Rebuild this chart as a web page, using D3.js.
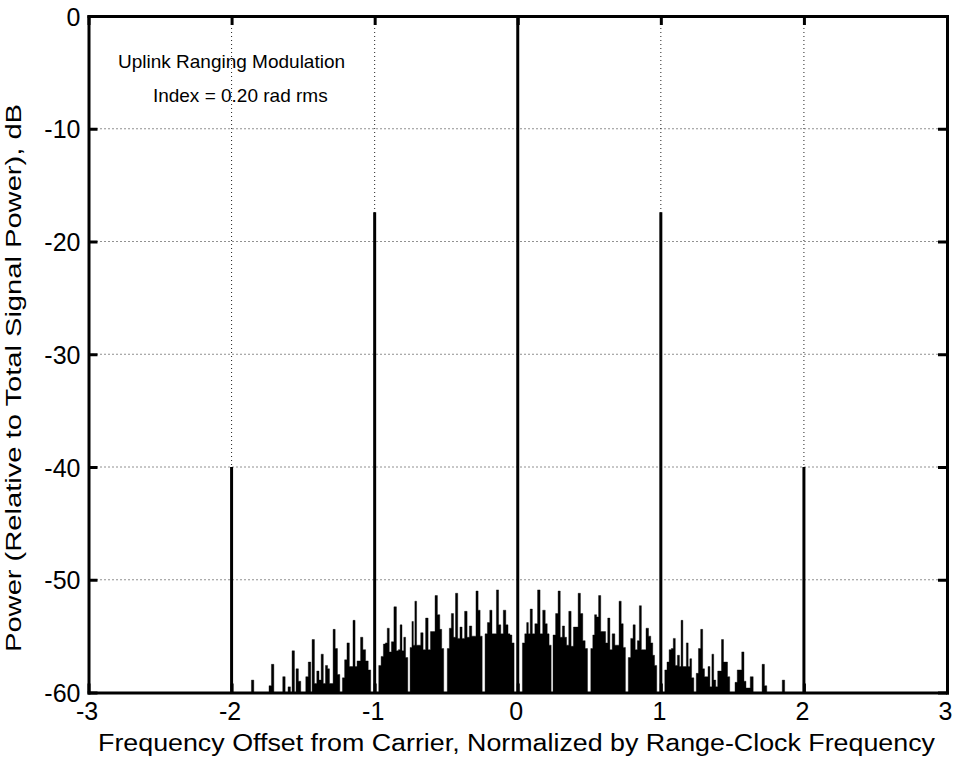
<!DOCTYPE html>
<html>
<head>
<meta charset="UTF-8">
<title>Uplink ranging spectrum</title>
<script src="https://d3js.org/d3.v7.min.js"></script>
<style>
body { margin: 0; background: white; }
text { font-family: "Liberation Sans", Arial, sans-serif; fill: black; }
</style>
</head>

<body>
<svg id="chart"></svg>

<script type="text/javascript">

/* Discrete lines: carrier and range-clock sidebands (freq, dB) */
var line_freq = [-2, -1, 0, 1, 2]
var line_db = [-40, -17.4, -0.1, -17.4, -40]

/* Low level ranging spectrum */
var noise_freq = [
	-1.853, -1.730, -1.713, -1.634, -1.597, -1.569, -1.541, -1.525,
	-1.473, -1.455, -1.429, -1.413, -1.396, -1.382, -1.366, -1.352, -1.336, -1.322, -1.310, -1.297, -1.284, -1.268, -1.252,
	-1.217, -1.203, -1.184, -1.170, -1.158, -1.145, -1.129, -1.117, -1.105, -1.092, -1.073, -1.054, -1.036,
	-0.963, -0.947, -0.931, -0.919, -0.905, -0.891, -0.875, -0.856, -0.840, -0.828, -0.816, -0.802, -0.791, -0.777,
	-0.744, -0.735, -0.724, -0.714, -0.700, -0.686, -0.670, -0.653, -0.635, -0.618, -0.602, -0.586, -0.570, -0.553, -0.537, -0.526,
	-0.484, -0.472, -0.456, -0.442, -0.428, -0.411, -0.397, -0.381, -0.362, -0.346, -0.330, -0.313, -0.299, -0.285, -0.269, -0.257,
	-0.220, -0.204, -0.187, -0.173, -0.157, -0.141, -0.127, -0.110, -0.092, -0.075, -0.061, -0.048, -0.034,
	0.041, 0.057, 0.068, 0.080, 0.094, 0.110, 0.129, 0.148, 0.164, 0.185, 0.199, 0.213, 0.225,
	0.255, 0.274, 0.290, 0.304, 0.320, 0.334, 0.348, 0.365, 0.381, 0.397, 0.414, 0.430, 0.446, 0.463, 0.479,
	0.519, 0.530, 0.544, 0.558, 0.572, 0.588, 0.607, 0.621, 0.637, 0.651, 0.669, 0.688, 0.700, 0.716, 0.730, 0.744,
	0.781, 0.798, 0.814, 0.828, 0.844, 0.856, 0.872, 0.886, 0.907, 0.921, 0.938, 0.949, 0.963,
	1.036, 1.050, 1.066, 1.080, 1.094, 1.108, 1.124, 1.136, 1.147, 1.161, 1.173, 1.184, 1.198, 1.208, 1.222,
	1.256, 1.270, 1.287, 1.298, 1.312, 1.324, 1.336, 1.350, 1.364, 1.375, 1.392, 1.403, 1.417, 1.431, 1.445, 1.459, 1.473,
	1.527, 1.541, 1.557, 1.574, 1.588, 1.602, 1.613, 1.637, 1.716, 1.732, 1.857
]
var noise_db = [
	-58.9, -59.4, -57.5, -58.6, -59.5, -56.3, -57.9, -59.0,
	-58.6, -57.3, -55.3, -59.2, -58.1, -58.9, -56.6, -59.2, -57.6, -57.9, -59.2, -59.2, -54.4, -56.1, -58.4,
	-58.7, -57.1, -55.6, -57.7, -57.7, -53.6, -57.7, -57.2, -57.2, -55.1, -56.2, -57.2, -58.0,
	-57.6, -56.8, -55.7, -55.6, -54.3, -56.4, -55.5, -52.4, -56.3, -56.2, -54.0, -56.3, -55.1, -56.9,
	-56.0, -53.7, -55.8, -51.9, -55.8, -55.8, -54.7, -56.2, -53.4, -56.2, -54.6, -54.6, -51.4, -53.1, -54.4, -56.1,
	-56.1, -54.3, -53.0, -55.1, -51.2, -55.2, -54.2, -55.2, -52.8, -55.1, -54.1, -55.0, -55.0, -51.0, -52.7, -55.0,
	-54.8, -53.8, -52.7, -54.8, -54.8, -50.9, -54.0, -54.8, -52.7, -54.0, -54.8, -54.9, -55.6,
	-55.6, -54.8, -53.8, -54.8, -52.6, -54.8, -53.9, -50.9, -54.8, -52.7, -53.9, -54.8, -55.8,
	-54.9, -53.0, -51.0, -55.1, -54.1, -55.1, -55.8, -52.8, -55.9, -54.2, -54.2, -51.2, -53.0, -55.4, -56.1,
	-56.1, -54.9, -53.1, -53.3, -51.4, -54.6, -54.6, -55.6, -53.4, -56.2, -54.8, -55.8, -55.8, -51.9, -53.9, -56.0,
	-56.9, -55.2, -54.0, -56.2, -55.4, -52.3, -56.2, -56.2, -54.3, -55.0, -55.6, -56.7, -57.6,
	-58.0, -57.3, -56.2, -56.1, -55.2, -57.6, -56.7, -57.7, -53.6, -57.7, -57.7, -55.6, -57.7, -57.0, -58.7,
	-58.3, -56.1, -54.4, -57.9, -58.6, -58.6, -57.7, -59.5, -56.6, -58.9, -59.5, -58.1, -58.1, -55.3, -57.3, -57.3, -58.6,
	-59.1, -58.0, -58.0, -56.4, -59.0, -59.6, -59.6, -58.6, -57.5, -59.4, -58.9
]

var x_ticks = [-3, -2, -1, 0, 1, 2, 3]
var y_ticks = [-60, -50, -40, -30, -20, -10, 0]
var x_title = 'Frequency Offset from Carrier, Normalized by Range-Clock Frequency'
var y_title = 'Power (Relative to Total Signal Power), dB'
var note_lines = ['Uplink Ranging Modulation', 'Index = 0.20 rad rms']

/* Canvas and plot box (window.top is reserved, hence the prefixes) */
var W = 955, H = 761
var box_left = 88.5, box_right = 947, box_top = 16, box_bottom = 692.5

var x = d3.scaleLinear().domain([-3, 3]).range([box_left, box_right])
var y = d3.scaleLinear().domain([-60, 0]).range([box_bottom, box_top])

var svg = d3.select('#chart').attr('width', W).attr('height', H)

/* Dotted grid at the inner ticks */
function draw_grid() {
	var g = svg.append('g')
	g.selectAll('line.gx')
		.data(x_ticks.slice(1, -1))
		.enter().append('line')
		.attr('x1', d => x(d)).attr('x2', d => x(d))
		.attr('y1', box_top).attr('y2', box_bottom)
	g.selectAll('line.gy')
		.data(y_ticks.slice(1, -1))
		.enter().append('line')
		.attr('x1', box_left).attr('x2', box_right)
		.attr('y1', d => y(d)).attr('y2', d => y(d))
	g.selectAll('line')
		.style('stroke', '#222')
		.style('stroke-width', 1)
		.style('stroke-dasharray', '1,3')
}

/*
Spectrum. Neighbouring components closer than join_df merge into one solid
lobe drawn as a single stepped area (no seams); each component reaches halfway
to its neighbour. Isolated ones become thin bars.
*/
function draw_spectrum() {
	var half = 1.2, join_df = 0.025
	var n = noise_freq.length

	// group indices into lobes
	var lobes = [], cur = [0]
	for (var i = 1; i < n; i++) {
		if (noise_freq[i] - noise_freq[i - 1] < join_df) cur.push(i)
		else { lobes.push(cur); cur = [i] }
	}
	lobes.push(cur)

	function edges(i, lobe) {
		var k = lobe.indexOf(i)
		var xl = k > 0 ? (x(noise_freq[i]) + x(noise_freq[lobe[k - 1]])) / 2 : x(noise_freq[i]) - half
		var xr = k < lobe.length - 1 ? (x(noise_freq[i]) + x(noise_freq[lobe[k + 1]])) / 2 : x(noise_freq[i]) + half
		return [xl, xr]
	}

	var area = d3.area()
		.x(p => p[0])
		.y0(y(-60))
		.y1(p => y(p[1]))

	svg.append('g').selectAll('path')
		.data(lobes)
		.enter().append('path')
		.attr('d', function(lobe) {
			var pts = []
			lobe.forEach(function(i) {
				var e = edges(i, lobe)
				pts.push([e[0], noise_db[i]], [e[1], noise_db[i]])
			})
			return area(pts)
		})
		.style('fill', 'black')
		.style('stroke', 'black')
		.style('stroke-width', 0.4)

	svg.append('g').selectAll('line')
		.data(line_freq)
		.enter().append('line')
		.attr('x1', d => x(d)).attr('x2', d => x(d))
		.attr('y1', y(-60))
		.attr('y2', (d, i) => y(line_db[i]))
		.style('stroke', 'black')
		.style('stroke-width', 3)
}

/* Box axes with inward ticks, labels on bottom and left only */
function draw_axes() {
	var fs = '25px'
	var gb = svg.append('g').attr('transform', 'translate(0,' + box_bottom + ')')
		.call(d3.axisBottom(x).tickValues(x_ticks).tickSize(-9).tickSizeOuter(0).tickPadding(10))
	var gl = svg.append('g').attr('transform', 'translate(' + box_left + ',0)')
		.call(d3.axisLeft(y).tickValues(y_ticks).tickSize(-9).tickSizeOuter(0).tickPadding(8))
	var gt = svg.append('g').attr('transform', 'translate(0,' + box_top + ')')
		.call(d3.axisTop(x).tickValues(x_ticks).tickSize(-9).tickSizeOuter(0).tickFormat(''))
	var gr = svg.append('g').attr('transform', 'translate(' + box_right + ',0)')
		.call(d3.axisRight(y).tickValues(y_ticks).tickSize(-9).tickSizeOuter(0).tickFormat(''))

	;[gb, gl, gt, gr].forEach(function(g) {
		g.attr('font-size', null).attr('font-family', null)
		g.select('.domain').style('stroke', 'black').style('stroke-width', 3).style('stroke-linecap', 'square')
		g.selectAll('.tick line').style('stroke', 'black').style('stroke-width', 3)
		g.selectAll('text').style('font-size', fs)
			.attr('fill', 'black')
	})
	// MATLAB-style minus signs are plain hyphens
	gb.selectAll('text').text(d => String(d)).attr('dx', '-0.08em')
	gl.selectAll('text').text(d => String(d)).attr('dy', '0.36em')
}

/* Axis titles and the in-plot note */
function draw_texts() {
	svg.append('text')
		.attr('x', 516.5)
		.attr('y', 751)
		.attr('textLength', 837)
		.attr('lengthAdjust', 'spacingAndGlyphs')
		.style('font-size', '23px')
		.style('text-anchor', 'middle')
		.text(x_title)

	svg.append('text')
		.attr('transform', 'translate(21,378) rotate(-90)')
		.attr('textLength', 548)
		.attr('lengthAdjust', 'spacingAndGlyphs')
		.style('font-size', '22px')
		.style('text-anchor', 'middle')
		.text(y_title)

	svg.append('text')
		.attr('x', x(-2.794)).attr('y', y(-4.6))
		.style('font-size', '19px')
		.text(note_lines[0])
	svg.append('text')
		.attr('x', x(-2.55)).attr('y', y(-7.6))
		.style('font-size', '19px')
		.text(note_lines[1])
}

draw_grid()
draw_spectrum()
draw_axes()
draw_texts()

</script>
</body>
</html>
